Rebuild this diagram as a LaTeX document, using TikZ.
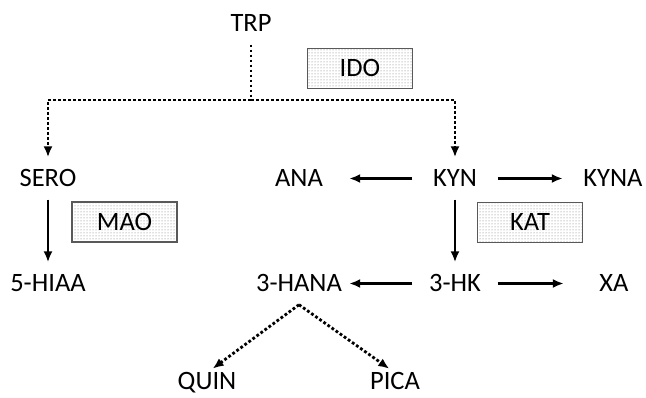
\documentclass[tikz,border=0pt]{standalone}
\usepackage{fontspec}
\setmainfont{Carlito}
\usetikzlibrary{arrows.meta,patterns}
\begin{document}
\begin{tikzpicture}[x=1pt,y=-1pt,font=\fontsize{26.5}{30}\selectfont,
  met/.style={minimum width=100pt,minimum height=42pt,inner sep=0pt,text height=17pt,text depth=0pt},
  enz/.style={draw=black!65,line width=1.4pt,pattern=dots,pattern color=black!55,minimum width=105pt,minimum height=40pt,inner sep=0pt,text height=17pt,text depth=0pt},
  conv/.style={line width=2.4pt,-{Latex[length=11pt,width=9pt]}},
  dotline/.style={line width=2.8pt,dash pattern=on 2.8pt off 2.2pt},
  dotarrow/.style={dotline,-{Latex[length=11pt,width=9pt]}}]
  \useasboundingbox (0,0) rectangle (646,398);

  \node[met] (trp) at (251,23.5) {TRP};
  \node[met] (sero) at (48,178.5) {SERO};
  \node[met] (hiaa) at (48,283.5) {5-HIAA};
  \node[met] (ana) at (299,178.5) {ANA};
  \node[met,minimum width=85pt] (kyn) at (455,178.5) {KYN};
  \node[met] (kyna) at (613,178.5) {KYNA};
  \node[met] (hana) at (299,283.5) {3-HANA};
  \node[met,minimum width=85pt] (hk) at (455,283.5) {3-HK};
  \node[met] (xa) at (614,283.5) {XA};
  \node[met,minimum height=0pt] (quin) at (207,381.5) {QUIN};
  \node[met,minimum height=0pt] (pica) at (395,381.5) {PICA};

  \node[enz] (ido) at (360,68.5) {IDO};
  \node[enz] (mao) at (124.5,222) {MAO};
  \node[enz] (kat) at (530,222.5) {KAT};

  % branch point under TRP
  \coordinate (split) at (251,100);
  \draw[dotline] (trp) -- (split);
  \draw[dotarrow] (split) -| (sero);
  \draw[dotarrow] (split) -| (kyn);

  \draw[conv] (sero) -- (hiaa);
  \draw[conv] (kyn) -- (ana);
  \draw[conv] (kyn) -- (kyna);
  \draw[conv] (kyn) -- (hk);
  \draw[conv] (hk) -- (hana);
  \draw[conv] (hk) -- (xa);
  \draw[dotarrow,shorten >=7pt] (hana.south) -- (quin.north);
  \draw[dotarrow,shorten >=7pt] (hana.south) -- (pica.north);
\end{tikzpicture}
\end{document}
